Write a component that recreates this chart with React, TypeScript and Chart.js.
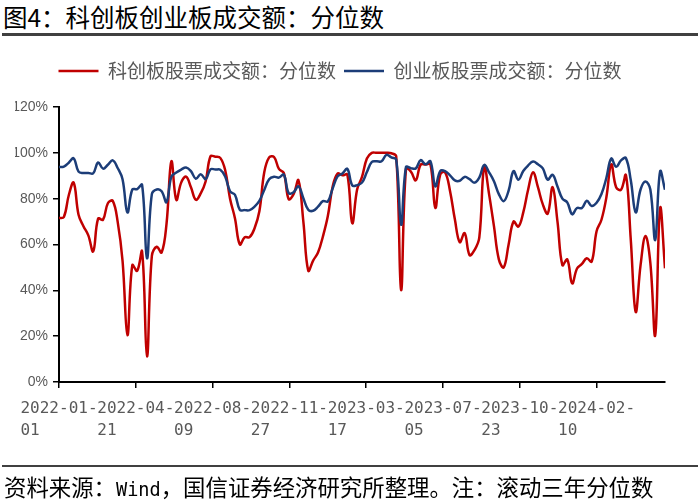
import React, { useEffect, useRef } from "react";
import { Chart, registerables } from "chart.js";

Chart.register(...registerables);

// ---- data ----
const START_DATE = "2022-01-01";
const STEP_DAYS = 7; // weekly observations starting at START_DATE
const X_MAX_DAYS = 868;
const X_TICK_STEP_DAYS = 110;
const xTickLabels = [
  "2022-01-01",
  "2022-04-21",
  "2022-08-09",
  "2022-11-27",
  "2023-03-17",
  "2023-07-05",
  "2023-10-23",
  "2024-02-10",
];
const yTickValues = [0, 20, 40, 60, 80, 100, 120];
const seriesNames = ["科创板股票成交额：分位数", "创业板股票成交额：分位数"];

// 科创板 (red)
const kcbValues = [
  71.5, 72, 81.5, 87, 73, 68, 64, 57, 71.3, 70.8,
  78, 79, 70, 53, 20.4, 51, 48.5, 57, 11.2, 55,
  59, 56.5, 69, 96.3, 79.5, 87, 89.6, 85, 79.5, 82.3,
  87.5, 98.5, 98.3, 97.8, 92.5, 80, 71.5, 60, 63.2, 63.2,
  67, 74.5, 91.5, 98, 98.2, 93, 91.2, 79.8, 82, 88,
  70, 48.6, 53, 56.5, 63.5, 72.3, 85.3, 91, 90.2, 90.5,
  69.3, 84, 89.5, 97.5, 100, 100, 100, 100, 99.8, 98.5,
  40.1, 93, 91.8, 88, 94.8, 94.9, 95, 76, 90.5, 91.5,
  83.5, 71, 61, 65, 55.4, 57.5, 63, 94, 82, 68,
  53.5, 50, 60, 70, 67.8, 74, 84, 91.5, 85, 77.5,
  73.5, 85, 70, 51, 53.5, 43, 49.5, 51.5, 54, 52.5,
  65.8, 70.8, 80.5, 95, 85, 83.9, 90.3, 62, 30.6, 51,
  63.7, 52, 20.4, 75.9, 49.6,
];

// 创业板 (blue)
const cybValues = [
  93.8, 94, 95.7, 97.6, 91.8, 91.2, 91.2, 91.1, 95.8, 93.1,
  94.8, 96.7, 93.4, 88.5, 74, 84, 84.2, 86, 54, 82,
  84, 83.2, 78.5, 89.6, 91.4, 92.7, 93.6, 92, 88.7, 90.7,
  88.5, 92.8, 92.7, 92.6, 89.7, 83.2, 81.7, 75.1, 75, 75,
  76.5, 79, 83.8, 88.5, 89.6, 89.2, 90.5, 82.4, 82.8, 85.4,
  80.2, 75.2, 74.7, 76.5, 78.9, 78.8, 84.5, 89.7, 91, 93,
  85.8, 85.9, 87, 91.6, 96, 96.3, 96.3, 99.1, 98, 97,
  68.6, 93.8, 93.3, 93.2, 96.8, 95, 96.3, 85.4, 92, 92,
  90.2, 88, 87.8, 89.5, 88.5, 87, 89.2, 94.7, 91.5, 87.6,
  82, 78.9, 83.5, 92, 88.3, 92.1, 94.5, 96.2, 95, 93.2,
  88.3, 90.4, 85.3, 80, 78.4, 73.2, 75.9, 75.9, 79.1, 76.8,
  78.2, 82, 89, 97.5, 93.9, 96.7, 97.7, 88, 74, 84,
  87.5, 84, 62, 91.9, 83.9,
];

const dayOffsets = kcbValues.map((_, i) => i * STEP_DAYS);

const RED = "#C00000";
const BLUE = "#1C3D78";
const GREY_TEXT = "#595959";
const CJK = '"Noto Sans CJK SC", "Noto Sans", sans-serif';
const MONO = '"DejaVu Sans Mono", monospace';

export default function App() {
  const canvasRef = useRef<HTMLCanvasElement | null>(null);

  useEffect(() => {
    const canvas = canvasRef.current;
    if (!canvas) return;
    const chart = new Chart(canvas, {
      type: "line",
      data: {
        datasets: [
          {
            label: seriesNames[0],
            data: kcbValues.map((v, i) => ({ x: dayOffsets[i], y: v })),
            borderColor: RED,
            backgroundColor: RED,
            borderWidth: 2.5,
            pointRadius: 0,
            tension: 0.4,
            order: 1,
          },
          {
            label: seriesNames[1],
            data: cybValues.map((v, i) => ({ x: dayOffsets[i], y: v })),
            borderColor: BLUE,
            backgroundColor: BLUE,
            borderWidth: 2.5,
            pointRadius: 0,
            tension: 0.4,
            order: 0,
          },
        ],
      },
      options: {
        animation: false,
        responsive: false,
        maintainAspectRatio: false,
        layout: { padding: { left: 15, right: 35, top: 53.5, bottom: 52 } },
        plugins: {
          tooltip: { enabled: false },
          legend: {
            display: true,
            position: "top",
            align: "center",
            labels: {
              usePointStyle: true,
              pointStyle: "line",
              pointStyleWidth: 40,
              color: GREY_TEXT,
              padding: 8,
              font: { family: CJK, size: 19 },
              sort: (a: any, b: any) => a.datasetIndex - b.datasetIndex,
            },
          },
          title: {
            display: true,
            text: "",
            weight: 500,
            padding: 0,
            font: { size: 16.5, lineHeight: 1 },
          } as any,
        },
        scales: {
          x: {
            type: "linear",
            position: "bottom",
            min: 0,
            max: X_MAX_DAYS,
            afterBuildTicks: (scale: any) => {
              scale.ticks = xTickLabels.map((_, i) => ({ value: i * X_TICK_STEP_DAYS }));
            },
            afterFit: (scale: any) => {
              scale.height = 70;
            },
            grid: {
              drawOnChartArea: false,
              drawTicks: true,
              tickLength: 6,
              color: "#000",
              lineWidth: 1.5,
            },
            border: { display: true, color: "#000", width: 2 },
            ticks: {
              autoSkip: false,
              maxRotation: 0,
              minRotation: 0,
              padding: 10,
              color: GREY_TEXT,
              font: { family: MONO, size: 16, lineHeight: 1.375 },
              callback: (_value: any, index: number) => {
                const lab = xTickLabels[index];
                return lab ? [lab.slice(0, 8), lab.slice(8).padEnd(8, " ")] : null;
              },
            },
          },
          y: {
            type: "linear",
            min: yTickValues[0],
            max: yTickValues[yTickValues.length - 1],
            afterFit: (scale: any) => {
              scale.width = 44;
            },
            grid: {
              drawOnChartArea: false,
              drawTicks: true,
              tickLength: 6,
              color: "#000",
              lineWidth: 1.5,
            },
            border: { display: true, color: "#000", width: 2 },
            ticks: {
              stepSize: 20,
              padding: 5,
              color: GREY_TEXT,
              font: { family: '"Liberation Sans", Arial, sans-serif', size: 14 },
              callback: (value: any) => `${value}%`,
            },
          },
        },
      },
    });
    return () => chart.destroy();
  }, []);

  return (
    <div
      style={{
        position: "fixed",
        left: 0,
        top: 0,
        width: 700,
        height: 504,
        background: "#fff",
        overflow: "hidden",
      }}
    >
      <div
        style={{
          position: "absolute",
          left: 3,
          top: 3,
          fontFamily: CJK,
          fontSize: 24.5,
          lineHeight: "27px",
          color: "#000",
          whiteSpace: "nowrap",
        }}
      >
        图4：科创板创业板成交额：分位数
      </div>
      <div
        style={{
          position: "absolute",
          left: 2,
          top: 33,
          width: 696,
          height: 2.5,
          background: "#404040",
        }}
      />
      <canvas
        ref={canvasRef}
        width={700}
        height={504}
        style={{ position: "absolute", left: 0, top: 0, width: 700, height: 504 }}
      />
      <div
        style={{
          position: "absolute",
          left: 2,
          top: 465,
          width: 696,
          height: 2,
          background: "#404040",
        }}
      />
      <div
        style={{
          position: "absolute",
          left: 4,
          top: 473,
          fontFamily: CJK,
          fontSize: 22.4,
          lineHeight: "27px",
          color: "#000",
          whiteSpace: "nowrap",
        }}
      >
        资料来源：
        <span style={{ fontFamily: MONO, fontSize: 18.6 }}>Wind</span>
        ，国信证券经济研究所整理。注：滚动三年分位数
      </div>
    </div>
  );
}
